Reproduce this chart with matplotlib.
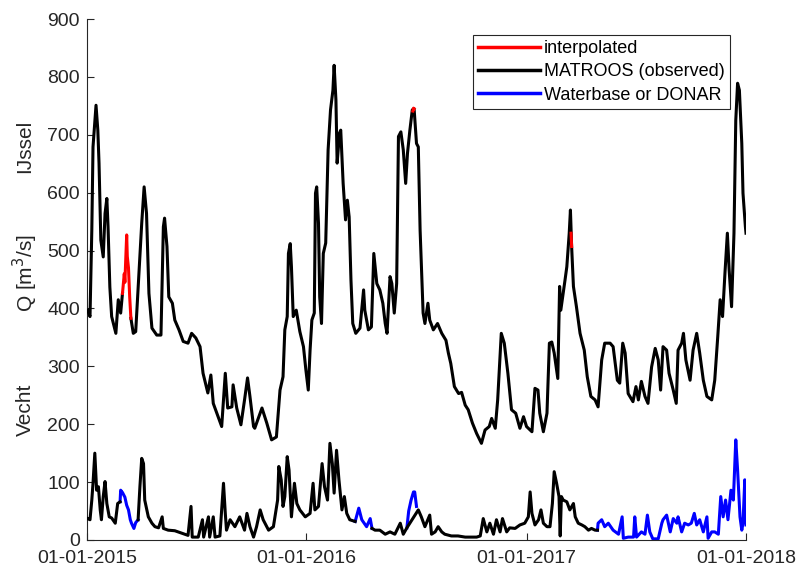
import matplotlib
matplotlib.use("Agg")
import matplotlib.pyplot as plt
import matplotlib.dates as mdates
import numpy as np

plt.rcParams['font.family'] = ['Liberation Sans', 'DejaVu Sans']

nan = np.nan

# IJssel discharge, MATROOS (observed) - days since 01-01-2015, m3/s
ijssel_days = [1, 5, 8, 10, 15, 18, 20, 23, 27, 30, 33, 35, 38, 41, 48, 52, 56, 59, 66,
               73, 77, 81, 87, 91, 95, 99, 103, 108, 116, 123, 127, 129, 133, 136, 142,
               146, 153, 160, 168, 174, 181, 188, 193, 201, 206, 210, 216, 224, 230, 234,
               241, 243, 249, 256, 262, 267, 271, 277, 279, 291, 299, 307, 315, 321, 326,
               329, 333, 335, 338, 340, 343, 348, 354, 360, 364, 368, 371, 374, 378, 380,
               382, 385, 387, 390, 393, 397, 401, 405, 409, 411, 414, 416, 420, 422, 426,
               430, 433, 436, 439, 442, 447, 454, 460, 462, 468, 473, 477, 482, 487, 492,
               496, 499, 504, 507, 511, 515, 518, 522, 526, 530, 533, 537, 541, 544, 548,
               551, 554, 559, 562, 567, 570, 576, 583, 590, 597, 601, 605, 611, 618, 623,
               629, 634, 641, 648, 656, 662, 669, 673, 679, 683, 689, 694, 700, 706, 713,
               720, 726, 731, 740, 745, 750, 753, 759, 765, 769, 773, 777, 783, 786, 788,
               792, 795, 798, 802, 804, 806, 809, 814, 820, 827, 832, 838, 845, 850, 856,
               861, 870, 875, 882, 886, 891, 895, 900, 908, 913, 917, 922, 928, 933, 939,
               945, 950, 954, 958, 964, 968, 975, 980, 983, 989, 992, 996, 1003, 1008,
               1014, 1019, 1025, 1031, 1039, 1044, 1049, 1053, 1057, 1061, 1065, 1068,
               1072, 1076, 1079, 1082, 1085, 1089, 1091, 1095, 1096]
ijssel_vals = [397, 386, 535, 679, 751, 708, 651, 518, 489, 564, 590, 541, 437, 386, 357,
               415, 392, 426, nan, 383, 357, 360, 472, 547, 610, 564, 426, 366, 354, 354,
               541, 556, 507, 420, 409, 380, 363, 343, 340, 357, 349, 334, 288, 254, 285,
               236, 219, 196, 288, 228, 230, 268, 228, 199, 242, 280, 248, 196, 193, 228,
               202, 173, 178, 259, 282, 363, 386, 495, 512, 472, 386, 397, 360, 334, 294,
               259, 328, 380, 392, 599, 610, 547, 420, 374, 495, 513, 674, 743, 777, 820,
               760, 651, 703, 708, 616, 553, 587, 558, 449, 374, 357, 366, 432, 397, 363,
               368, 495, 443, 432, 409, 374, 357, 455, 443, 392, 443, 697, 705, 674, 616,
               668, 708, 743, 745, 685, 679, 535, 392, 374, 409, 380, 363, 374, 357, 345,
               323, 305, 265, 253, 255, 233, 225, 202, 184, 167, 190, 196, 210, 193, 242,
               357, 340, 288, 225, 219, 193, 213, 196, 187, 262, 259, 219, 187, 219, 340,
               342, 323, 279, 438, 397, 426, 449, 472, 530, 570, 507, 438, 403, 357, 328,
               282, 248, 242, 230, 311, 340, 340, 334, 276, 271, 340, 323, 253, 239, 265,
               242, 274, 248, 236, 299, 331, 311, 259, 334, 328, 288, 259, 236, 328, 340,
               357, 311, 276, 328, 357, 323, 276, 248, 242, 276, 351, 415, 386, 461, 530,
               466, 403, 530, 725, 789, 777, 685, 599, 541, 530]

# IJssel interpolated parts
interp_days = [59, 62, 63, 65, 66, 67, 69, 71, 73, 74, 542, 543, 544, nan, 805, 806]
interp_vals = [426, 460, 445, 500, 527, 490, 470, 420, 383, nan, 741, 746, 745, nan, 530, 507]

# Vecht discharge, MATROOS (observed)
vecht_days = [1, 5, 8, 10, 13, 16, 19, 22, 24, 27, 30, 33, 37, 41, 47, 51, 55, 70, 85, 88,
              91, 94, 96, 102, 108, 113, 119, 125, 127, 135, 146, 157, 163, 168, 173, 175,
              185, 192, 194, 202, 204, 210, 213, 221, 227, 230, 232, 238, 246, 254, 262,
              266, 271, 277, 282, 288, 293, 302, 310, 317, 319, 323, 326, 329, 333, 336,
              340, 345, 349, 354, 363, 371, 376, 379, 385, 391, 395, 400, 404, 408, 411,
              415, 419, 424, 428, 432, 437, 446, 460, 474, 479, 487, 496, 504, 512, 521,
              526, 532, 551, 556, 562, 570, 573, 579, 584, 590, 595, 606, 617, 629, 648,
              654, 659, 665, 670, 676, 681, 687, 691, 698, 703, 712, 720, 728, 734, 737,
              740, 745, 751, 755, 759, 765, 770, 774, 777, 781, 785, 787, 789, 792, 798,
              803, 809, 812, 817, 823, 828, 834, 839, 845, 849]
vecht_vals = [37, 35, 69, 98, 150, 86, 92, 52, 35, 75, 101, 63, 40, 38, 29, 63, 66, nan, 35,
              92, 141, 132, 69, 40, 29, 23, 21, 40, 20, 17, 16, 12, 10, 8, 58, 5, 5, 35, 5,
              40, 5, 40, 5, 7, 98, 46, 17, 35, 23, 40, 17, 46, 23, 5, 23, 52, 35, 17, 23,
              69, 127, 104, 58, 75, 144, 121, 40, 98, 63, 52, 40, 46, 98, 52, 58, 132, 92,
              69, 167, 132, 81, 155, 104, 52, 75, 46, 35, 32, nan, 20, 17, 17, 10, 14, 10,
              29, 10, 21, 52, 40, 23, 43, 10, 14, 23, 14, 10, 7, 7, 5, 5, 7, 37, 14, 29, 10,
              35, 14, 37, 14, 21, 20, 26, 29, 40, 83, 46, 26, 35, 52, 29, 23, 23, 63, 118,
              98, 75, 7, 75, 69, 66, 52, 63, 40, 29, 26, 23, 17, 20, 17, 17]

# Vecht discharge, Waterbase or DONAR
wb_days = [55, 56, 59, 63, 66, 69, 72, 74, 78, 81, 85, 86,
           446, 452, 457, 465, 471, 474, 475,
           532, 535, 539, 543, 545, 548, 549,
           849, 850, 856, 861, 867, 875, 884, 890, 892, 900, 909, 911, 914, 922, 928, 932,
           936, 941, 950, 956, 958, 964, 970, 975, 981, 983, 989, 994, 1000, 1005, 1010,
           1014, 1019, 1025, 1031, 1033, 1039, 1044, 1050, 1054, 1058, 1062, 1066, 1071,
           1075, 1079, 1082, 1086, 1089, 1091, 1094, 1096]
wb_vals = [66, 86, 82, 74, 60, 52, 35, 29, 20, 30, 35, nan,
           32, 55, 35, 23, 37, 20, nan,
           21, 50, 69, 83, 83, 58, nan,
           17, 29, 35, 23, 29, 17, 10, 40, 3, 5, 5, 40, 5, 14, 10, 43, 14, 2, 2, 29, 35,
           43, 14, 37, 29, 40, 14, 29, 26, 29, 46, 26, 35, 14, 40, 3, 14, 14, 10, 75, 40,
           69, 35, 86, 69, 173, 121, 40, 17, 29, 104, 26]

start = np.datetime64('2015-01-01')


def to_dates(days):
    d = np.array(days, dtype=float)
    out = start + np.nan_to_num(d).astype(int) * np.timedelta64(1, 'D')
    out = out.astype('datetime64[D]')
    out[np.isnan(d)] = np.datetime64('NaT')
    return out


fig = plt.figure(figsize=(7.98, 5.69), dpi=100)
ax = fig.add_axes([87 / 798, 29 / 569, 659 / 798, 521 / 569])

lw = 2.2
ax.plot(to_dates(interp_days), interp_vals, color='red', lw=lw, label='interpolated', zorder=4)
ax.plot(to_dates(ijssel_days), ijssel_vals, color='black', lw=lw, label='MATROOS (observed)', zorder=3)
ax.plot(to_dates(vecht_days), vecht_vals, color='black', lw=lw, zorder=3)
ax.plot(to_dates(wb_days), wb_vals, color='blue', lw=lw, label='Waterbase or DONAR', zorder=2)

ax.set_xlim(np.datetime64('2015-01-01'), np.datetime64('2018-01-01'))
ax.set_ylim(0, 900)
ax.set_yticks(np.arange(0, 901, 100))
ax.xaxis.set_major_locator(mdates.YearLocator())
ax.xaxis.set_major_formatter(mdates.DateFormatter('%d-%m-%Y'))

gray = (0.15, 0.15, 0.15)
for s in ['top', 'right']:
    ax.spines[s].set_visible(False)
for s in ['left', 'bottom']:
    ax.spines[s].set_color(gray)
    ax.spines[s].set_linewidth(0.8)
ax.tick_params(direction='in', length=5, width=0.8, colors=gray, labelsize=14)
ax.tick_params(axis='x', pad=7)
ax.tick_params(axis='y', pad=5)

leg = ax.legend(loc='upper right', bbox_to_anchor=(0.976, 0.97), fontsize=13,
                handlelength=3.4, handletextpad=0.25, labelspacing=0.35,
                borderpad=0.3, borderaxespad=0, fancybox=False, framealpha=1)
leg.get_frame().set_edgecolor(gray)
leg.get_frame().set_linewidth(0.8)
for line in leg.get_lines():
    line.set_linewidth(2.5)

fig.text(25 / 798, 1 - 146 / 569, 'IJssel', rotation=90, ha='center', va='center', fontsize=15, color=gray)
fig.text(25 / 798, 1 - 273 / 569, 'Q [m$^3$/s]', rotation=90, ha='center', va='center', fontsize=15, color=gray)
fig.text(25 / 798, 1 - 410 / 569, 'Vecht', rotation=90, ha='center', va='center', fontsize=15, color=gray)

fig.savefig('out.png', dpi=100)
